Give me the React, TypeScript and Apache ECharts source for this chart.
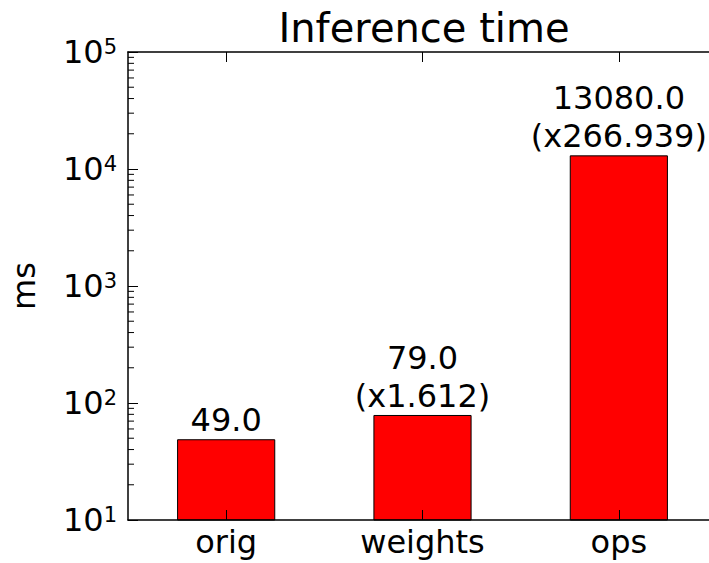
import React, { useEffect, useRef } from "react";
import * as echarts from "echarts";

const categories = ["orig", "weights", "ops"];
const times = [49.0, 79.0, 13080.0];
const yMin = 10;
const yMax = 100000;
const minorTickValues: number[] = [];
for (let d = 10; d < yMax; d *= 10) {
  for (let k = 2; k <= 9; k++) minorTickValues.push(d * k);
}

const FONT = "DejaVu Sans";

function barLabel(i: number): string {
  const v = times[i].toFixed(1);
  if (i === 0) return v;
  return v + "\n(x" + (times[i] / times[0]).toFixed(3) + ")";
}

export default function App() {
  const ref = useRef<HTMLDivElement>(null);
  useEffect(() => {
    if (!ref.current) return;
    const chart = echarts.init(ref.current, null, { renderer: "svg" });
    const tickLine = { show: true, inside: true, length: 10, lineStyle: { color: "#000", width: 1 } };
    const axisLine = { show: true, lineStyle: { color: "#000", width: 1.5 } };
    chart.setOption({
      animation: false,
      backgroundColor: "#fff",
      title: {
        text: "Inference time",
        left: 419,
        textAlign: "center",
        top: 3,
        textStyle: { fontFamily: FONT, fontSize: 40, fontWeight: "normal", color: "#000" },
      },
      grid: { left: 121, right: 8, top: 52, bottom: 43, containLabel: false },
      xAxis: [
        {
          type: "category",
          data: categories,
          position: "bottom",
          z: 5,
          axisLine,
          axisTick: { ...tickLine, alignWithLabel: true },
          axisLabel: { fontFamily: FONT, fontSize: 32, color: "#000", margin: 6 },
          splitLine: { show: false },
        },
        {
          type: "category",
          data: categories,
          position: "top",
          z: 5,
          axisLine,
          axisTick: { ...tickLine, alignWithLabel: true },
          axisLabel: { show: false },
          splitLine: { show: false },
        },
      ],
      yAxis: [
        {
          type: "log",
          logBase: 10,
          min: yMin,
          max: yMax,
          position: "left",
          z: 5,
          name: "ms",
          nameLocation: "middle",
          nameRotate: 90,
          nameGap: 88,
          nameTextStyle: { fontFamily: FONT, fontSize: 32, color: "#000" },
          axisLine,
          axisTick: tickLine,
          splitLine: { show: false },
          axisLabel: {
            margin: 11,
            formatter: (val: number) => `{b|10}{s|${Math.round(Math.log10(val))}}`,
            rich: {
              b: { fontFamily: FONT, fontSize: 32, color: "#000", lineHeight: 32 },
              s: {
                fontFamily: FONT,
                fontSize: 21,
                color: "#000",
                lineHeight: 21,
                verticalAlign: "top",
                padding: [0, 0, 30, 0],
              },
            },
          },
        },
      ],
      series: [
        {
          type: "bar",
          data: times,
          barWidth: "50%",
          itemStyle: { color: "#ff0000", borderColor: "#000", borderWidth: 1 },
          label: {
            show: true,
            position: "top",
            distance: 0,
            formatter: (p: any) => barLabel(p.dataIndex),
            fontFamily: FONT,
            fontSize: 32,
            lineHeight: 38,
            color: "#000",
          },
        },
        {
          type: "custom",
          silent: true,
          z: 6,
          data: minorTickValues.map((v) => [0, v]),
          encode: { x: 0, y: 1 },
          renderItem: (params: any, api: any) => {
            const y = api.coord([0, api.value(1)])[1];
            const cs = params.coordSys;
            return {
              type: "line",
              shape: { x1: cs.x, y1: y, x2: cs.x + 6, y2: y },
              style: { stroke: "#000", lineWidth: 1 },
            };
          },
        },
      ],
    });
    return () => chart.dispose();
  }, []);
  return (
    <div style={{ position: "absolute", left: 0, top: 0, width: 709, height: 563, overflow: "hidden" }}>
      <div ref={ref} style={{ width: 725, height: 563 }} />
    </div>
  );
}
